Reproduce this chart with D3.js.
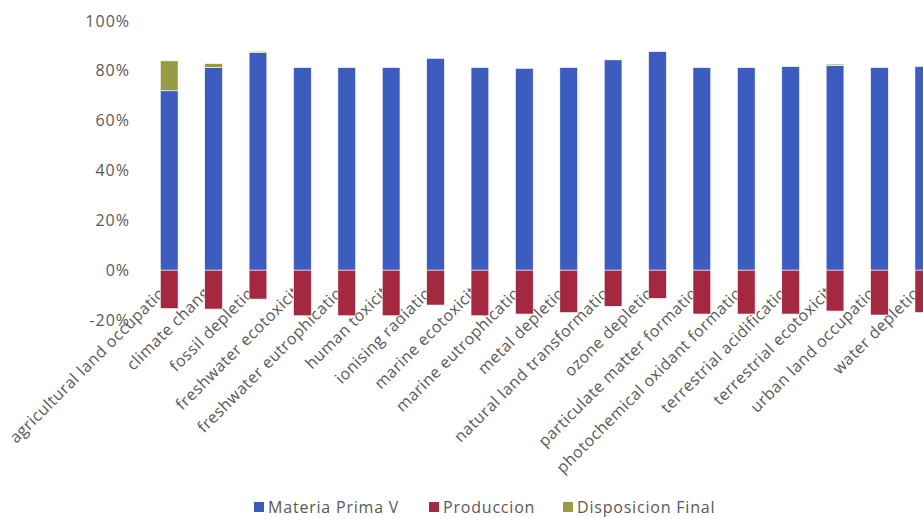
<!DOCTYPE html>
<html>
<head>
<meta charset="utf-8">
<script src="https://cdn.jsdelivr.net/npm/d3@7"></script>
<style>
  html, body { margin: 0; padding: 0; background: #fff; }
  svg { display: block; }
  text { font-family: "Open Sans", "Noto Sans", sans-serif; fill: #595959; }
</style>
</head>
<body>
<svg id="chart" width="923" height="518"></svg>
<script>
// Impact categories (ReCiPe midpoint)
const categories = [
  "agricultural land occupation", "climate change", "fossil depletion",
  "freshwater ecotoxicity", "freshwater eutrophication", "human toxicity",
  "ionising radiation", "marine ecotoxicity", "marine eutrophication",
  "metal depletion", "natural land transformation", "ozone depletion",
  "particulate matter formation", "photochemical oxidant formation",
  "terrestrial acidification", "terrestrial ecotoxicity",
  "urban land occupation", "water depletion"
];

// Contribution of each life-cycle stage, in percent
const materiaPrima = [72, 81.3, 87.3, 81.3, 81.3, 81.3, 85, 81.3, 81, 81.3, 84.4, 87.7, 81.3, 81.3, 81.7, 82.2, 81.3, 81.7];
const produccion   = [-15.4, -15.6, -11.6, -18.3, -18.3, -18.3, -14, -18.3, -17.6, -17, -14.5, -11.3, -17.6, -17.6, -17.6, -16.4, -18, -17];
const disposicion  = [12, 1.6, 0.5, 0, 0, 0, 0, 0, 0, 0, 0, 0, 0, 0, 0, 0.5, 0, 0];

const yTicks = [-20, 0, 20, 40, 60, 80, 100];

const seriesNames = ["Materia Prima V", "Produccion", "Disposicion Final"];
const seriesKeys = ["materia", "produccion", "disposicion"];
const colors = { materia: "#3d5cbf", produccion: "#a4283f", disposicion: "#9a9a45" };

const rows = categories.map((c, i) => ({
  category: c,
  materia: materiaPrima[i],
  produccion: produccion[i],
  disposicion: disposicion[i]
}));

const svg = d3.select("#chart");

const x = d3.scaleBand()
  .domain(categories)
  .range([147, 946])
  .paddingInner(0.6)
  .paddingOuter(0.3);

const y = d3.scaleLinear()
  .domain([-20, 100])
  .range([320, 21]);

// Y axis labels
const yAxis = d3.axisLeft(y)
  .tickValues(yTicks)
  .tickFormat(d => d + "%")
  .tickSize(0)
  .tickPadding(0);

svg.append("g")
  .attr("transform", "translate(130,0)")
  .call(yAxis)
  .call(g => g.select(".domain").remove())
  .selectAll("text")
  .style("font-size", "16px")
  .style("letter-spacing", "1px")
  .attr("fill", "#595959");

// Category labels, rotated; drawn before bars so the bars sit on top
const labelG = svg.append("g");
labelG.selectAll("text")
  .data(categories)
  .join("text")
  .attr("transform", d => `translate(${x(d) + x.bandwidth() / 2 + 4},287) rotate(-45)`)
  .attr("text-anchor", "end")
  .style("font-size", "16px")
  .style("letter-spacing", "0.5px")
  .text(d => d);

// Stacked bars (diverging so the negative series goes below zero)
const stack = d3.stack()
  .keys(seriesKeys)
  .offset(d3.stackOffsetDiverging);
const stacked = stack(rows);

svg.append("g")
  .selectAll("g")
  .data(stacked)
  .join("g")
  .attr("fill", d => colors[d.key])
  .selectAll("rect")
  .data(d => d.map(v => ({ v, cat: v.data.category })))
  .join("rect")
  .attr("x", d => x(d.cat))
  .attr("width", x.bandwidth())
  .attr("y", d => y(Math.max(d.v[0], d.v[1])))
  .attr("height", d => Math.abs(y(d.v[0]) - y(d.v[1])))
  .attr("stroke", "#fff")
  .attr("stroke-width", 0.6);

// Legend
const legendX = [254, 429, 563];
const legend = svg.append("g");
seriesKeys.forEach((k, i) => {
  legend.append("rect")
    .attr("x", legendX[i])
    .attr("y", 502)
    .attr("width", 10)
    .attr("height", 10)
    .attr("fill", colors[k]);
  legend.append("text")
    .attr("x", legendX[i] + 14)
    .attr("y", 513)
    .style("font-size", "16px")
    .style("letter-spacing", "0.8px")
    .text(seriesNames[i]);
});
</script>
</body>
</html>
